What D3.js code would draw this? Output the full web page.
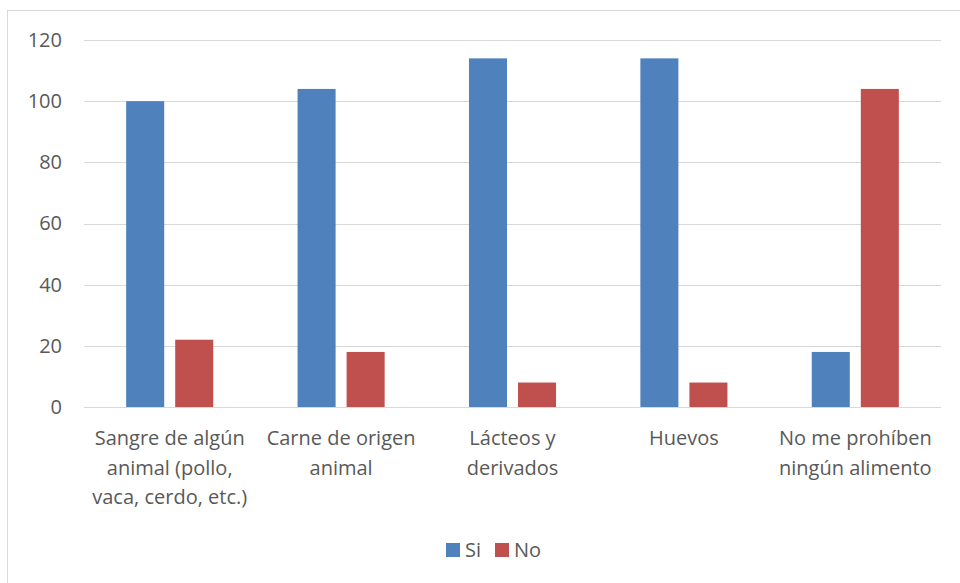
<!DOCTYPE html>
<html>
<head>
<meta charset="utf-8">
<script src="https://cdn.jsdelivr.net/npm/d3@7"></script>
<style>
  html, body { margin: 0; padding: 0; background: #ffffff; }
  svg { display: block; }
</style>
</head>
<body>
<svg id="chart" width="960" height="583"></svg>
<script>
// Categories (each split into its display lines)
const categories = [
  "Sangre de algún animal (pollo, vaca, cerdo, etc.)",
  "Carne de origen animal",
  "Lácteos y derivados",
  "Huevos",
  "No me prohíben ningún alimento"
];
const categoryLines = [
  ["Sangre de algún", "animal (pollo,", "vaca, cerdo, etc.)"],
  ["Carne de origen", "animal"],
  ["Lácteos y", "derivados"],
  ["Huevos"],
  ["No me prohíben", "ningún alimento"]
];
const seriesNames = ["Si", "No"];
const siValues = [100, 104, 114, 114, 18];
const noValues = [22, 18, 8, 8, 104];
const yTicks = [0, 20, 40, 60, 80, 100, 120];

const colors = { Si: "#4F81BD", No: "#C0504D" };
const textColor = "#595959";
const gridColor = "#D9D9D9";
const fontFamily = "'Open Sans', sans-serif";

const svg = d3.select("#chart");

// Chart frame
svg.append("rect")
  .attr("x", 7.5).attr("y", 10.5)
  .attr("width", 960).attr("height", 600)
  .attr("fill", "#ffffff")
  .attr("stroke", gridColor).attr("stroke-width", 1);

const plot = { left: 84, right: 941, top: 40, bottom: 407 };

const x0 = d3.scaleBand()
  .domain(categories)
  .range([plot.left, plot.right])
  .paddingInner(0).paddingOuter(0);

const bw = x0.bandwidth();
const x1 = d3.scaleBand()
  .domain(seriesNames)
  .range([bw * 0.246, bw * 0.754])
  .paddingInner(0.2245).paddingOuter(0);

const y = d3.scaleLinear().domain([0, 120]).range([plot.bottom, plot.top]);

// Gridlines + value axis labels
const yAxis = d3.axisLeft(y).tickValues(yTicks)
  .tickSize(-(plot.right - plot.left)).tickPadding(22);
const gy = svg.append("g")
  .attr("transform", `translate(${plot.left},0)`)
  .call(yAxis);
gy.select(".domain").remove();
gy.selectAll(".tick line")
  .attr("stroke", gridColor).attr("stroke-width", 1)
  .attr("shape-rendering", "crispEdges");
gy.selectAll(".tick text")
  .attr("fill", textColor)
  .attr("font-family", fontFamily)
  .attr("font-size", 20);

// Bars
const rows = categories.map((c, i) => ({ cat: c, Si: siValues[i], No: noValues[i] }));
const groups = svg.append("g").selectAll("g")
  .data(rows).join("g")
  .attr("transform", d => `translate(${x0(d.cat)},0)`);

groups.selectAll("rect")
  .data(d => seriesNames.map(s => ({ s, v: d[s] })))
  .join("rect")
  .attr("x", d => x1(d.s))
  .attr("width", x1.bandwidth())
  .attr("y", d => y(d.v))
  .attr("height", d => y(0) - y(d.v))
  .attr("fill", d => colors[d.s]);

// Category axis line
svg.append("line")
  .attr("x1", plot.left).attr("x2", plot.right)
  .attr("y1", y(0)).attr("y2", y(0))
  .attr("stroke", gridColor).attr("stroke-width", 1)
  .attr("shape-rendering", "crispEdges");

// Category labels
const lineHeight = 29.5;
svg.append("g").selectAll("text")
  .data(categories).join("text")
  .attr("x", d => x0(d) + bw / 2)
  .attr("y", 445)
  .attr("text-anchor", "middle")
  .attr("fill", textColor)
  .attr("font-family", fontFamily)
  .attr("font-size", 20)
  .each(function (d, i) {
    const t = d3.select(this);
    categoryLines[i].forEach((ln, k) => {
      t.append("tspan")
        .attr("x", x0(d) + bw / 2)
        .attr("y", 445 + k * lineHeight)
        .text(ln);
    });
  });

// Legend
const legendItems = [
  { name: "Si", x: 446 },
  { name: "No", x: 495 }
];
const lg = svg.append("g");
legendItems.forEach(it => {
  lg.append("rect")
    .attr("x", it.x).attr("y", 543)
    .attr("width", 14).attr("height", 14)
    .attr("fill", colors[it.name]);
  lg.append("text")
    .attr("x", it.x + 19).attr("y", 557)
    .attr("fill", textColor)
    .attr("font-family", fontFamily)
    .attr("font-size", 20)
    .text(it.name);
});
</script>
</body>
</html>
